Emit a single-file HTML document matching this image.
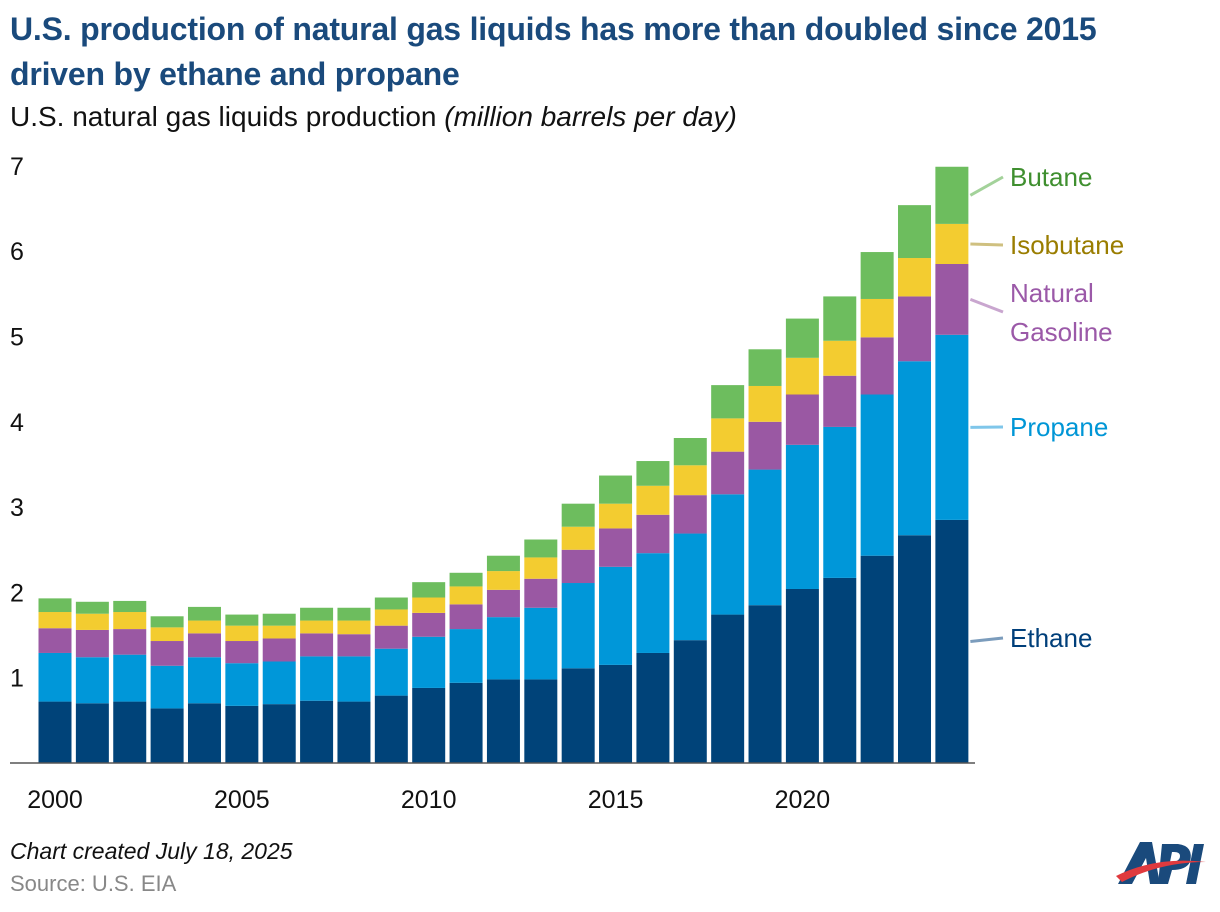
<!DOCTYPE html>
<html><head><meta charset="utf-8"><style>
body{margin:0;width:1220px;height:912px;background:#fff;font-family:"Liberation Sans",sans-serif;overflow:hidden;position:relative}
.t{position:absolute;white-space:nowrap}
</style></head><body>
<div class="t" style="left:10px;top:7px;font-size:32px;font-weight:bold;color:#1a4a7c;line-height:45px;letter-spacing:-0.2px">U.S. production of natural gas liquids has more than doubled since 2015<br>driven by ethane and propane</div>
<div class="t" style="left:10px;top:101px;font-size:28px;color:#111">U.S. natural gas liquids production <i>(million barrels per day)</i></div>
<svg id="chart" width="1220" height="912" style="position:absolute;left:0;top:0"></svg>
<div class="t" style="left:10px;top:838px;font-size:23px;font-style:italic;color:#111">Chart created July 18, 2025</div>
<div class="t" style="left:10px;top:871px;font-size:22px;color:#888">Source: U.S. EIA</div>
<svg width="92" height="50" style="position:absolute;left:1116px;top:836px">
<path d="M2 48 L24 6 L36 6 L44 48 L34 48 L30 22 L16 48Z" fill="#1a4a7c"/>
<path d="M46 8 L62 8 Q78 10 74 26 Q70 34 56 34 L52 48 L42 48Z M56 16 L54 26 Q64 26 64 20 Q64 16 58 16Z" fill="#1a4a7c"/>
<path d="M78 8 L88 8 L80 48 L70 48Z" fill="#1a4a7c"/>
<path d="M0 40 Q40 20 90 26 Q44 26 6 46Z" fill="#e03a3e"/>
</svg>
<script>
const years=[2000,2001,2002,2003,2004,2005,2006,2007,2008,2009,2010,2011,2012,2013,2014,2015,2016,2017,2018,2019,2020,2021,2022,2023,2024];
const ethane=[0.72,0.70,0.72,0.64,0.70,0.67,0.69,0.73,0.72,0.79,0.88,0.94,0.98,0.98,1.11,1.15,1.29,1.44,1.74,1.85,2.04,2.17,2.43,2.67,2.85];
const propane=[0.57,0.54,0.55,0.50,0.54,0.50,0.50,0.52,0.53,0.55,0.60,0.63,0.73,0.84,1.00,1.15,1.17,1.25,1.41,1.59,1.69,1.77,1.89,2.04,2.17];
const natGasoline=[0.29,0.32,0.30,0.29,0.28,0.26,0.27,0.27,0.26,0.27,0.28,0.29,0.32,0.34,0.39,0.45,0.45,0.45,0.50,0.56,0.59,0.60,0.67,0.76,0.83];
const isobutane=[0.19,0.19,0.20,0.16,0.15,0.18,0.15,0.15,0.16,0.19,0.18,0.21,0.22,0.25,0.27,0.29,0.34,0.35,0.39,0.42,0.43,0.41,0.45,0.45,0.47];
const butane=[0.16,0.14,0.13,0.13,0.16,0.13,0.14,0.15,0.15,0.14,0.18,0.16,0.18,0.21,0.27,0.33,0.29,0.32,0.39,0.43,0.46,0.52,0.55,0.62,0.67];
const yTicks=[1,2,3,4,5,6,7];
const xTicks=[2000,2005,2010,2015,2020];
const series=[["ethane",ethane,"#004379"],["propane",propane,"#0097d9"],["natural-gasoline",natGasoline,"#9a58a3"],["isobutane",isobutane,"#f3cc30"],["butane",butane,"#6dbd5e"]];
const NS="http://www.w3.org/2000/svg";
const svg=document.getElementById('chart');
const y=v=>763-v*85.3;
const x=yr=>55+(yr-2000)*37.37;
const bw=33;
function mk(t,a){const e=document.createElementNS(NS,t);for(const k in a)e.setAttribute(k,a[k]);svg.appendChild(e);return e;}
yTicks.forEach(v=>{const e=mk('text',{x:10,y:y(v)+9,'font-size':25,fill:'#111'});e.textContent=v;

});
xTicks.forEach(v=>{const e=mk('text',{x:x(v),y:808,'font-size':25,fill:'#111','text-anchor':'middle'});e.textContent=v;

});
years.forEach((yr,i)=>{let c=0;series.forEach(s=>{const v=s[1][i];const r=mk('rect',{x:x(yr)-bw/2,y:y(c+v),width:bw,height:y(c)-y(c+v),fill:s[2]});

c+=v;});});
const ax=mk('line',{x1:10,x2:975,y1:763,y2:763,stroke:'#555','stroke-width':1.5});


const last=years.length-1;
const labels=[["ethane","Ethane","#003f7a","#7b9cbc",[0]],["propane","Propane","#0096d6","#7fc6ea",[0,1]],["natural-gasoline","Natural|Gasoline","#9b59a8","#c9a6cf",[0,1,2]],["isobutane","Isobutane","#9a7d00","#cfc080",[0,1,2,3]],["butane","Butane","#3f8f2f","#a3d29a",[0,1,2,3,4]]];
const lblY={ethane:638,propane:427,"natural-gasoline":312,isobutane:245,butane:177};
labels.forEach(l=>{let lo=0;l[4].slice(0,-1).forEach(k=>lo+=series[k][1][last]);const hi=lo+series[l[4][l[4].length-1]][1][last];const mid=y((lo+hi)/2);const ly=lblY[l[0]];
const ln=mk('line',{x1:x(years[last])+bw/2+2,y1:mid,x2:1003,y2:ly,stroke:l[3],'stroke-width':3});


const parts=l[1].split('|');parts.forEach((p,j)=>{const t=mk('text',{x:1010,y:(parts.length>1?ly-19+j*39:ly)+9,'font-size':26,fill:l[2]});t.textContent=p;

});});
</script>
</body></html>
